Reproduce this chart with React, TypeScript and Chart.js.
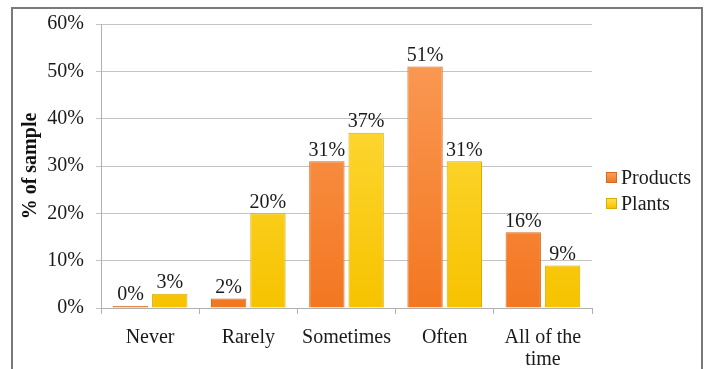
import React, { useEffect, useRef } from "react";
import { Chart, registerables } from "chart.js";

Chart.register(...registerables);

const categories: (string | string[])[] = ["Never", "Rarely", "Sometimes", "Often", ["All of the", "time"]];
const productsValues = [0, 2, 31, 51, 16];
const plantsValues = [3, 20, 37, 31, 9];
const yTicks = [0, 10, 20, 30, 40, 50, 60];

const FONT = "'Liberation Serif', 'Times New Roman', serif";

function verticalGradient(ctx: any, top: string, bottom: string) {
  const chart = ctx.chart;
  const area = chart.chartArea;
  if (!area) return bottom;
  const g = chart.ctx.createLinearGradient(0, area.top, 0, area.bottom);
  g.addColorStop(0, top);
  g.addColorStop(1, bottom);
  return g;
}

// Writes each bar's percentage just above it.
const valueLabels = {
  id: "valueLabels",
  afterDatasetsDraw(chart: any) {
    const { ctx } = chart;
    ctx.save();
    ctx.font = `20px ${FONT}`;
    ctx.fillStyle = "#1a1a1a";
    ctx.textAlign = "center";
    ctx.textBaseline = "bottom";
    chart.data.datasets.forEach((ds: any, i: number) => {
      const meta = chart.getDatasetMeta(i);
      meta.data.forEach((bar: any, j: number) => {
        ctx.fillText(`${ds.data[j]}%`, bar.x, bar.y - 1);
      });
    });
    ctx.restore();
  },
};

export default function App() {
  const canvasRef = useRef<HTMLCanvasElement | null>(null);

  useEffect(() => {
    document.body.style.margin = "0";
    const chart = new Chart(canvasRef.current!, {
      type: "bar",
      data: {
        labels: categories,
        datasets: [
          {
            label: "Products",
            data: productsValues,
            backgroundColor: (c: any) => verticalGradient(c, "#fb9d5a", "#f37721"),
            borderColor: "#d9691c",
            borderWidth: 1,
            minBarLength: 2,
          },
          {
            label: "Plants",
            data: plantsValues,
            backgroundColor: (c: any) => verticalGradient(c, "#ffe04a", "#f7c300"),
            borderColor: "#deac00",
            borderWidth: 1,
          },
        ],
      },
      options: {
        animation: false,
        responsive: false,
        maintainAspectRatio: false,
        layout: { padding: { left: 12, right: 117, top: 22, bottom: 0 } },
        plugins: {
          legend: { display: false },
          tooltip: { enabled: false },
        },
        scales: {
          x: {
            offset: true,
            categoryPercentage: 0.71,
            barPercentage: 1,
            afterFit: (scale: any) => {
              scale.height = 61;
            },
            grid: {
              offset: true,
              drawOnChartArea: false,
              drawTicks: true,
              tickLength: 6,
              color: "#b0b0b0",
            },
            border: { color: "#b0b0b0" },
            ticks: {
              color: "#1a1a1a",
              padding: 13,
              maxRotation: 0,
              autoSkip: false,
              font: { family: FONT, size: 20, lineHeight: 1.1 },
            },
          },
          y: {
            min: 0,
            max: 60,
            afterFit: (scale: any) => {
              scale.width = 89;
            },
            afterBuildTicks: (scale: any) => {
              scale.ticks = yTicks.map((v) => ({ value: v }));
            },
            grid: { color: "#c4c4c4", tickLength: 5 },
            border: { color: "#b0b0b0" },
            ticks: {
              color: "#1a1a1a",
              padding: 12,
              font: { family: FONT, size: 20 },
              callback: (v: any) => `${v}%`,
            },
            title: {
              display: true,
              text: "% of sample",
              color: "#111",
              padding: { top: 7, bottom: 0 },
              font: { family: FONT, size: 20, weight: "bold" },
            },
          },
        },
      },
      plugins: [valueLabels],
    });
    return () => chart.destroy();
  }, []);

  const swatch = (top: string, bottom: string, edge: string): React.CSSProperties => ({
    display: "inline-block",
    width: 11,
    height: 11,
    background: `linear-gradient(${top}, ${bottom})`,
    border: `1px solid ${edge}`,
    boxSizing: "border-box",
    marginRight: 4,
  });

  return (
    <div style={{ position: "relative", width: 709, height: 369, overflow: "hidden", background: "#fff" }}>
      <div
        style={{
          position: "absolute",
          left: 11,
          top: 7,
          width: 692,
          height: 400,
          border: "2px solid #7a7a7a",
          boxSizing: "border-box",
        }}
      />
      <canvas ref={canvasRef} width={709} height={369} style={{ position: "absolute", left: 0, top: 0 }} />
      <div
        style={{
          position: "absolute",
          left: 606,
          top: 164,
          fontFamily: FONT,
          fontSize: 20,
          color: "#1a1a1a",
          lineHeight: "26px",
        }}
      >
        <div style={{ display: "flex", alignItems: "center" }}>
          <span style={swatch("#fb9d5a", "#f37721", "#d9691c")} />
          Products
        </div>
        <div style={{ display: "flex", alignItems: "center" }}>
          <span style={swatch("#ffe04a", "#f7c300", "#deac00")} />
          Plants
        </div>
      </div>
    </div>
  );
}
